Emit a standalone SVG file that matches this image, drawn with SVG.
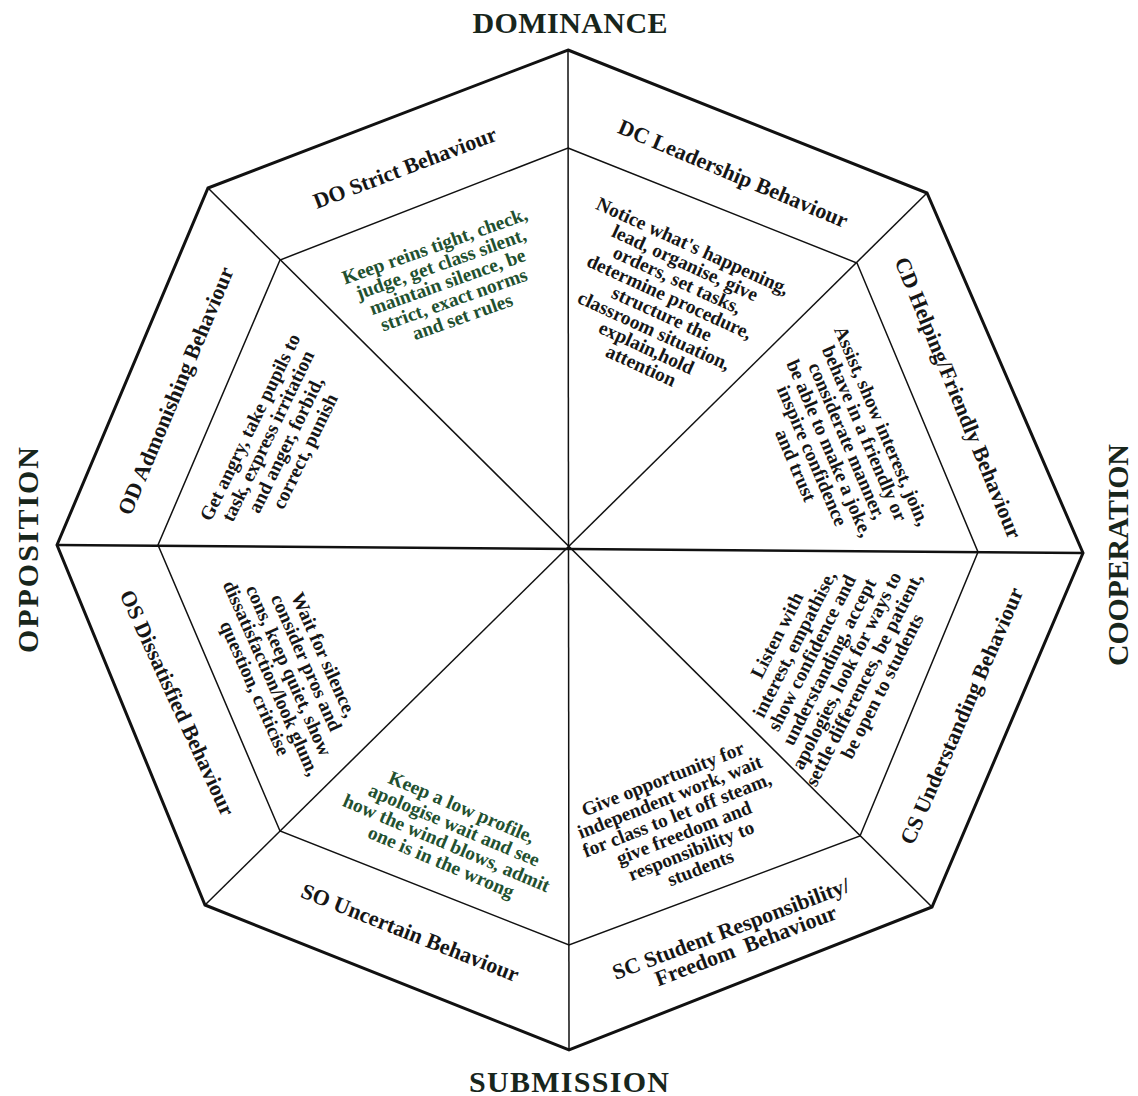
<svg xmlns="http://www.w3.org/2000/svg" width="1138" height="1096" viewBox="0 0 1138 1096">
<style>
  text { font-family: "Liberation Serif", "Times New Roman", serif; font-weight: bold; text-anchor: middle; fill: #161616; }
  .axis { font-size: 30px; fill: #18261c; }
  .lbl { font-size: 22px; }
  .desc { font-size: 19.5px; }
  .green { fill: #22502f; }
  .edge { fill: none; stroke: #111; stroke-linejoin: miter; }
  .outer { stroke-width: 3; }
  .inner { stroke-width: 1.5; }
  .spoke { stroke: #111; stroke-width: 1.5; }
  .hspoke { stroke: #111; stroke-width: 2.6; }
</style>
<rect width="1138" height="1096" fill="#ffffff"/>

<g id="connectors">
  <polygon class="edge outer" points="568,50 927,193 1083,553 932,907 569,1050 205,905 57,545 208,188"/>
  <polygon class="edge inner" points="568,148 857,263 978,552 860,836 569,945 280,831 158,545 280,260"/>
  <line class="spoke" x1="568" y1="50" x2="569" y2="1050"/>
  <line class="hspoke" x1="57" y1="545" x2="1083" y2="553"/>
  <line class="spoke" x1="208" y1="188" x2="932" y2="907"/>
  <line class="spoke" x1="927" y1="193" x2="205" y2="905"/>
</g>

<g id="axis-dominance"><text class="axis" x="570" y="33" textLength="195" lengthAdjust="spacing">DOMINANCE</text></g>
<g id="axis-submission"><text class="axis" x="569" y="1092" textLength="200" lengthAdjust="spacing">SUBMISSION</text></g>
<g id="axis-opposition"><text class="axis" transform="translate(38,550) rotate(-90)" textLength="206" lengthAdjust="spacing">OPPOSITION</text></g>
<g id="axis-cooperation"><text class="axis" transform="translate(1128,555) rotate(-90)" textLength="222" lengthAdjust="spacing">COOPERATION</text></g>

<g id="node-DO">
  <text class="lbl" transform="translate(405,168) rotate(-20.8)" y="7">DO Strict Behaviour</text>
  <text class="desc green" transform="translate(437,245) rotate(-19.5)">
    <tspan x="0" y="6.5">Keep reins tight, check,</tspan>
    <tspan x="0" dy="19">judge, get class silent,</tspan>
    <tspan x="0" dy="19">maintain silence, be</tspan>
    <tspan x="0" dy="19">strict, exact norms</tspan>
    <tspan x="0" dy="19">and set rules</tspan>
  </text>
</g>

<g id="node-DC">
  <text class="lbl" transform="translate(733,174) rotate(22.8)" y="7">DC Leadership Behaviour</text>
  <text class="desc" transform="translate(695,247) rotate(24.5)">
    <tspan x="0" y="6.5">Notice what's happening,</tspan>
    <tspan x="0" dy="18.6">lead, organise, give</tspan>
    <tspan x="0" dy="18.6">orders, set tasks,</tspan>
    <tspan x="0" dy="18.6">determine procedure,</tspan>
    <tspan x="0" dy="18.6">structure the</tspan>
    <tspan x="0" dy="18.6">classroom situation,</tspan>
    <tspan x="0" dy="18.6">explain,hold</tspan>
    <tspan x="0" dy="18.6">attention</tspan>
  </text>
</g>

<g id="node-CD">
  <text class="lbl" transform="translate(958,398) rotate(67.7)" y="7">CD Helping/Friendly Behaviour</text>
  <text class="desc" transform="translate(883,428) rotate(66.8)">
    <tspan x="0" y="6.5">Assist, show interest, join,</tspan>
    <tspan x="0" dy="19">behave in a friendly or</tspan>
    <tspan x="0" dy="19">considerate manner,</tspan>
    <tspan x="0" dy="19">be able to make a joke,</tspan>
    <tspan x="0" dy="19">inspire confidence</tspan>
    <tspan x="0" dy="19">and trust</tspan>
  </text>
</g>

<g id="node-CS">
  <text class="lbl" transform="translate(962,716) rotate(-66.5)" y="7">CS Understanding Behaviour</text>
  <text class="desc" transform="translate(778,633) rotate(-63)">
    <tspan x="0" y="6.5">Listen with</tspan>
    <tspan x="0" dy="19.5">interest, empathise,</tspan>
    <tspan x="0" dy="19.5">show confidence and</tspan>
    <tspan x="0" dy="19.5">understanding, accept</tspan>
    <tspan x="0" dy="19.5">apologies, look for ways to</tspan>
    <tspan x="0" dy="19.5">settle differences, be patient,</tspan>
    <tspan x="0" dy="19.5">be open to students</tspan>
  </text>
</g>

<g id="node-SC">
  <text class="lbl" transform="translate(731,929) rotate(-20.7)" xml:space="preserve"><tspan x="0" y="7">SC Student Responsibility/</tspan><tspan x="8" dy="21">Freedom  Behaviour</tspan></text>
  <text class="desc" transform="translate(665,778) rotate(-21.5)">
    <tspan x="0" y="6.5">Give opportunity for</tspan>
    <tspan x="0" dy="19.3">independent work, wait</tspan>
    <tspan x="0" dy="19.3">for class to let off steam,</tspan>
    <tspan x="0" dy="19.3">give freedom and</tspan>
    <tspan x="0" dy="19.3">responsibility to</tspan>
    <tspan x="0" dy="19.3">students</tspan>
  </text>
</g>

<g id="node-SO">
  <text class="lbl" transform="translate(410,933) rotate(21.6)" y="7">SO Uncertain Behaviour</text>
  <text class="desc green" transform="translate(464,808) rotate(23)">
    <tspan x="0" y="6.5">Keep a low profile,</tspan>
    <tspan x="0" dy="19.5">apologise wait and see</tspan>
    <tspan x="0" dy="19.5">how the wind blows, admit</tspan>
    <tspan x="0" dy="19.5">one is in the wrong</tspan>
  </text>
</g>

<g id="node-OS">
  <text class="lbl" transform="translate(177,703) rotate(65.3)" y="7">OS Dissatisfied Behaviour</text>
  <text class="desc" transform="translate(325,657) rotate(66)">
    <tspan x="0" y="6.5">Wait for silence,</tspan>
    <tspan x="0" dy="19.2">consider pros and</tspan>
    <tspan x="0" dy="19.2">cons, keep quiet, show</tspan>
    <tspan x="0" dy="19.2">dissatisfaction/look glum,</tspan>
    <tspan x="0" dy="19.2">question, criticise</tspan>
  </text>
</g>

<g id="node-OD">
  <text class="lbl" transform="translate(176,391) rotate(-67.2)" y="7">OD Admonishing Behaviour</text>
  <text class="desc" transform="translate(251,425) rotate(-64)">
    <tspan x="0" y="6.5">Get angry, take pupils to</tspan>
    <tspan x="0" dy="20">task, express irritation</tspan>
    <tspan x="0" dy="20">and anger, forbid,</tspan>
    <tspan x="0" dy="20">correct, punish</tspan>
  </text>
</g>
</svg>
